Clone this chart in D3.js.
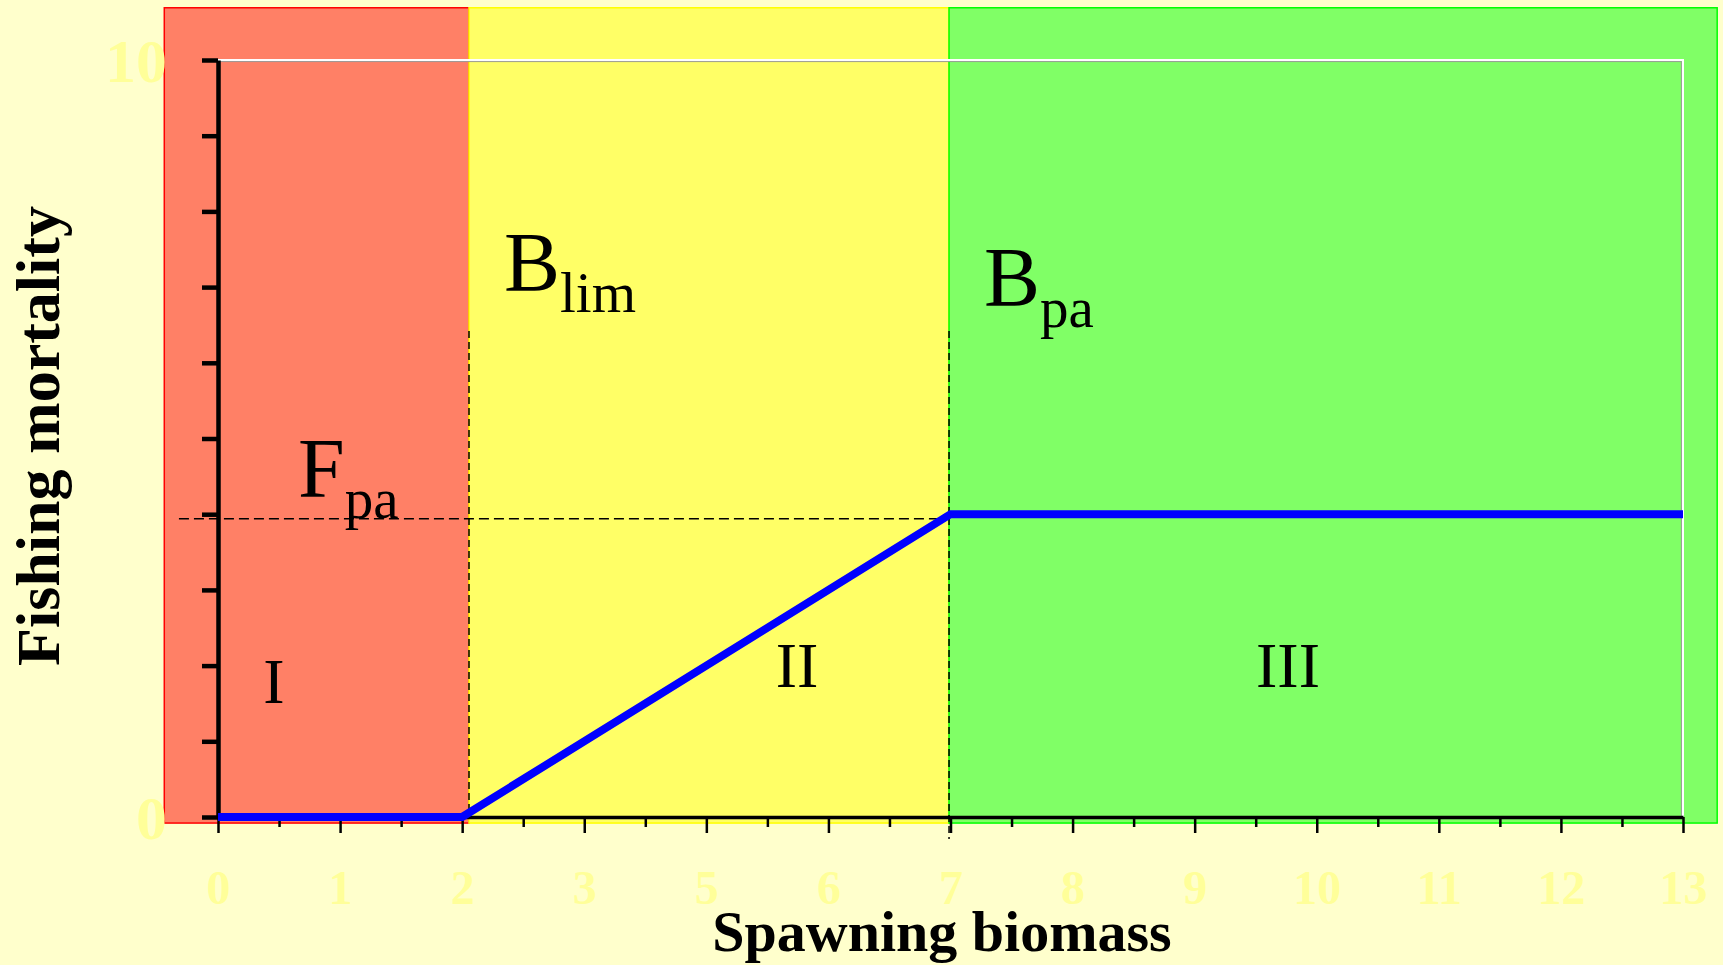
<!DOCTYPE html>
<html>
<head>
<meta charset="utf-8">
<script src="https://cdn.jsdelivr.net/npm/d3@7"></script>
<style>
  html, body { margin: 0; padding: 0; background: #FFFFCC; }
  svg { display: block; }
  text { font-family: "Liberation Serif", "Times New Roman", serif; }
</style>
</head>
<body>
<svg id="chart" width="1723" height="965"></svg>
<script>
// ---- data ----
const xTickLabels = ["0", "1", "2", "3", "5", "6", "7", "8", "9", "10", "11", "12", "13"];
const xTickIndex = [0, 1, 2, 3, 4, 5, 6, 7, 8, 9, 10, 11, 12];
const yTickValues = [0, 1, 2, 3, 4, 5, 6, 7, 8, 9, 10];
const yTickLabels = ["0", "", "", "", "", "", "", "", "", "", "10"];
const hcrBiomass = [0, 2, 6, 12];        // positions on the biomass axis
const hcrMortality = [0, 0, 4, 4];       // fishing mortality
const zoneNames = ["I", "II", "III"];
const zoneStart = [-0.44, 2.056, 5.988];
const zoneEnd = [2.056, 5.988, 12.28];
const bLim = 2.056;
const bPa = 5.988;
const fPa = 3.94;

// ---- layout ----
const svg = d3.select("#chart");
const x = d3.scaleLinear().domain([0, 12]).range([218, 1683]);
const y = d3.scaleLinear().domain([0, 10]).range([817, 60]);

svg.append("rect").attr("width", 1723).attr("height", 965).attr("fill", "#FFFFCC");

// zones
const zoneFill = ["#FF8066", "#FFFF66", "#80FF66"];
const zoneStroke = ["#FF0000", "#FFFF00", "#00FF00"];
svg.append("g").selectAll("rect").data(zoneNames).join("rect")
  .attr("x", (d, i) => x(zoneStart[i]))
  .attr("width", (d, i) => x(zoneEnd[i]) - x(zoneStart[i]))
  .attr("y", y(10.69))
  .attr("height", y(-0.08) - y(10.69))
  .attr("fill", (d, i) => zoneFill[i])
  .attr("stroke", (d, i) => zoneStroke[i])
  .attr("stroke-width", 1.5);

// white frame (top & right)
svg.append("path")
  .attr("d", `M${x(0)},${y(10) + 1.6}H${x(12) - 1.6}V${y(0)}`)
  .attr("fill", "none").attr("stroke", "#9a9a9a").attr("stroke-width", 1);
svg.append("path")
  .attr("d", `M${x(0)},${y(10)}H${x(12)}V${y(0)}`)
  .attr("fill", "none").attr("stroke", "#FFFFFF").attr("stroke-width", 2);

// dashed reference lines
const dash = svg.append("g").attr("stroke", "#000").attr("stroke-width", 1.5).attr("fill", "none");
dash.append("line").attr("x1", x(-0.32)).attr("x2", x(bPa)).attr("y1", y(fPa)).attr("y2", y(fPa))
  .attr("stroke-dasharray", "10,5");
dash.append("line").attr("x1", x(bLim)).attr("x2", x(bLim)).attr("y1", y(6.42)).attr("y2", y(0))
  .attr("stroke-dasharray", "7,4");
dash.append("line").attr("x1", x(bPa)).attr("x2", x(bPa)).attr("y1", y(6.42)).attr("y2", y(-0.29))
  .attr("stroke-dasharray", "7,4");

// axes
const yAxis = d3.axisLeft(y).tickValues(yTickValues).tickSize(16).tickSizeOuter(0)
  .tickPadding(35).tickFormat((d, i) => yTickLabels[i]);
const gy = svg.append("g").attr("transform", `translate(${x(0)},0)`).call(yAxis);
gy.select(".domain").attr("stroke", "#000").attr("stroke-width", 4.5);
gy.selectAll(".tick line").attr("stroke", "#000").attr("stroke-width", 4.5);
gy.selectAll(".tick text").attr("fill", "#FFFF99").attr("font-size", 62).attr("font-weight", "bold")
  .attr("font-family", "Liberation Serif").attr("dy", "0.34em");

const minorX = d3.range(0, 12).map(v => v + 0.5);
const gxm = svg.append("g").attr("transform", `translate(0,${y(0)})`)
  .call(d3.axisBottom(x).tickValues(minorX).tickSize(10).tickSizeOuter(0).tickFormat(""));
gxm.select(".domain").remove();
gxm.selectAll(".tick line").attr("stroke", "#000").attr("stroke-width", 2.5);

const xAxis = d3.axisBottom(x).tickValues(xTickIndex).tickSize(16).tickSizeOuter(0)
  .tickPadding(37).tickFormat((d, i) => xTickLabels[i]);
const gx = svg.append("g").attr("transform", `translate(0,${y(0)})`).call(xAxis);
gx.select(".domain").attr("stroke", "#000").attr("stroke-width", 3.5);
gx.selectAll(".tick line").attr("stroke", "#000").attr("stroke-width", 2.5);
gx.selectAll(".tick text").attr("fill", "#FFFF99").attr("font-size", 48).attr("font-weight", "bold")
  .attr("font-family", "Liberation Serif");

// harvest control rule line
const line = d3.line().x((d, i) => x(hcrBiomass[i])).y((d, i) => y(hcrMortality[i]));
svg.append("path").datum(hcrBiomass).attr("d", line)
  .attr("fill", "none").attr("stroke", "#0000FF").attr("stroke-width", 8)
  .attr("stroke-linejoin", "miter").attr("stroke-linecap", "butt");

// labels with subscripts
function subLabel(px, py, main, sub) {
  const t = svg.append("text").attr("x", px).attr("y", py).attr("fill", "#000");
  t.append("tspan").attr("font-size", 84).text(main);
  t.append("tspan").attr("font-size", 57).attr("dy", 21).text(sub);
}
subLabel(504, 291, "B", "lim");
subLabel(984, 306, "B", "pa");
subLabel(298, 497, "F", "pa");

// zone numerals
const zoneLabelX = [274, 797, 1288];
const zoneLabelY = [703, 687, 687];
svg.append("g").selectAll("text").data(zoneNames).join("text")
  .attr("x", (d, i) => zoneLabelX[i]).attr("y", (d, i) => zoneLabelY[i])
  .attr("text-anchor", "middle").attr("font-size", 64).attr("fill", "#000")
  .text(d => d);

// axis titles
svg.append("text").attr("transform", "translate(59,436) rotate(-90)")
  .attr("text-anchor", "middle").attr("font-size", 62).attr("font-weight", "bold")
  .attr("fill", "#000").text("Fishing mortality");
svg.append("text").attr("x", 942).attr("y", 951)
  .attr("text-anchor", "middle").attr("font-size", 58).attr("font-weight", "bold")
  .attr("fill", "#000").text("Spawning biomass");
</script>
</body>
</html>
